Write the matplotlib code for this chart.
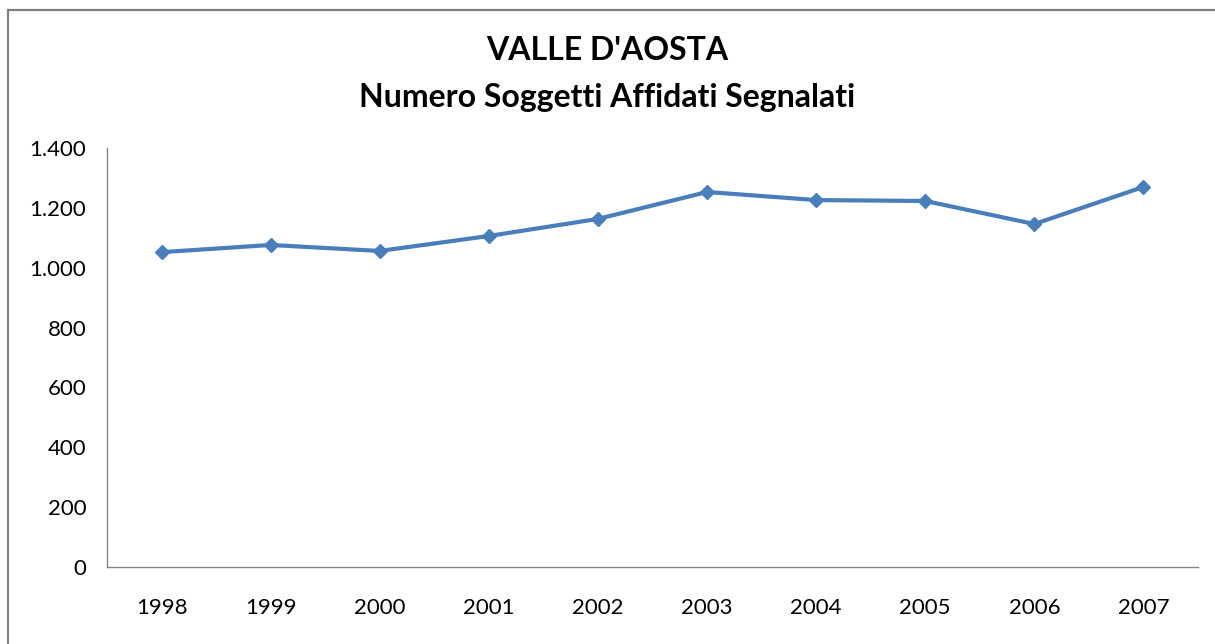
import numpy as np
import matplotlib.pyplot as plt
from matplotlib.ticker import FuncFormatter, FixedLocator
from matplotlib.patches import Rectangle

# data
anni = ['1998', '1999', '2000', '2001', '2002', '2003', '2004', '2005', '2006', '2007']
soggetti = [1052, 1076, 1056, 1106, 1163, 1253, 1226, 1223, 1146, 1270]
yticks = [0, 200, 400, 600, 800, 1000, 1200, 1400]

plt.rcParams['font.family'] = ['Lato', 'DejaVu Sans']

fig = plt.figure(figsize=(12.15, 6.44), dpi=100)
ax = fig.add_axes([107/1215, 1-567/644, (1198-107)/1215, (567-148)/644])

x = np.arange(len(anni))
ax.plot(x, soggetti, color='#4A7EBB', lw=3, marker='D', ms=7,
        markerfacecolor='#4A7EBB', markeredgecolor='#4A7EBB')

ax.set_xlim(-0.5, len(anni)-0.5)
ax.set_ylim(0, 1400)
ax.set_xticks(x)
ax.set_xticklabels(anni)
ax.yaxis.set_major_locator(FixedLocator(yticks))
ax.yaxis.set_major_formatter(FuncFormatter(lambda v, p: f'{int(v):,}'.replace(',', '.')))
ax.tick_params(axis='both', length=0, labelsize=16, colors='black')
ax.tick_params(axis='x', pad=22)
ax.tick_params(axis='y', pad=15)

for s in ['top', 'right']:
    ax.spines[s].set_visible(False)
for s in ['left', 'bottom']:
    ax.spines[s].set_color('#868686')
    ax.spines[s].set_linewidth(1)

fig.text(0.5, 1-51/644, "VALLE D'AOSTA", ha='center', va='center',
         fontsize=23, fontweight='bold')
fig.text(0.5, 1-98/644, "Numero Soggetti Affidati Segnalati", ha='center', va='center',
         fontsize=23, fontweight='bold')

# chart area border
fig.patches.append(Rectangle((7.5/1215, -0.1), 1.2, 1-10.5/644+0.1, transform=fig.transFigure,
                             fill=False, edgecolor='#808080', lw=1.6))

fig.savefig('out.png', dpi=100)
